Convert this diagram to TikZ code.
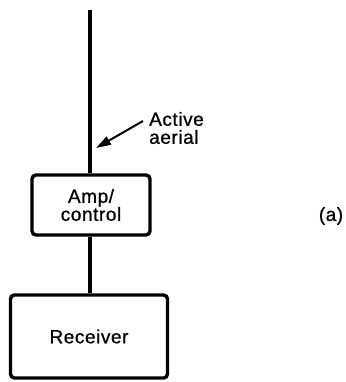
\documentclass[tikz,border=0pt]{standalone}
\usepackage{fontspec}
\setmainfont[FakeBold=0.8, LetterSpace=3]{Liberation Sans}
\usetikzlibrary{arrows.meta,positioning}

\begin{document}
\begin{tikzpicture}[x=1pt, y=-1pt, >={Triangle[length=15pt,width=9pt]},
	   font=\fontsize{19}{18}\selectfont,
	   blk/.style={draw, line width=3.4pt, rounded corners=4pt, inner sep=0pt, align=center},
	   wire/.style={line width=3.2pt}]
	  \useasboundingbox (0,0) rectangle (345,382);
	  \node[blk, minimum width=118pt, minimum height=60pt] (amp) at (91,205) {Amp/\\control};
	  \node[blk, minimum width=157pt, minimum height=83pt] (rx) at (89,336.5) {Receiver};
	  \coordinate (top) at (90,10);
	  \coordinate (tip) at (96,148);
	  \node[align=left, anchor=west, inner sep=0pt] (lbl) at (149,128) {Active\\aerial};
	  \node (fig) at (331,216) {(a)};
	  \draw[wire] (top) -- (amp.north -| top);
	  \draw[wire] (amp.south -| top) -- (rx.north -| top);
	  \draw[->, line width=2pt] ([xshift=-6pt]lbl.west |- 0,121) -- (tip);
	\end{tikzpicture}
\end{document}
